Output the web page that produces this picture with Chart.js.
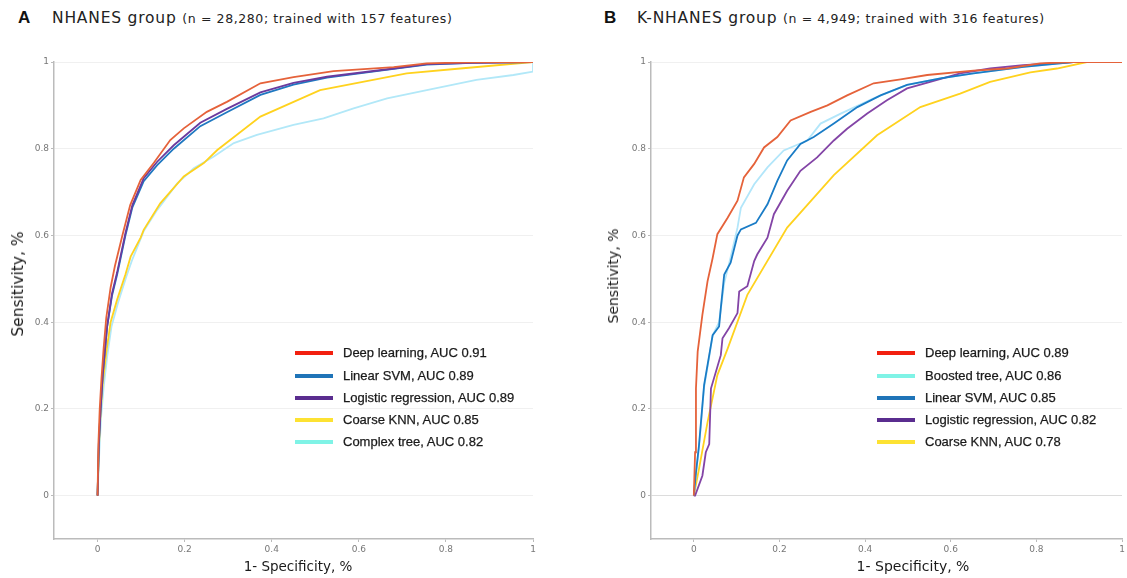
<!DOCTYPE html>
<html>
<head>
<meta charset="utf-8">
<script src="https://cdn.jsdelivr.net/npm/chart.js@4.4.1/dist/chart.umd.min.js"></script>
<style>
  body { margin: 0; background: #fff; width: 1127px; height: 578px; position: relative; overflow: hidden; }
  .panel { position: absolute; top: 0; height: 578px; }
  .lab { position: absolute; top: 8px; font: bold 17px "Liberation Sans", Arial, sans-serif; color: #111; }
  .head { position: absolute; top: 9px; font: 15.5px "DejaVu Sans", Verdana, sans-serif; letter-spacing: 0.8px; color: #222; white-space: nowrap; }
  .head small { font-size: 12.5px; letter-spacing: 0.6px; }
  .axt { position: absolute; font: 14px "DejaVu Sans", Verdana, sans-serif; color: #1a1a1a; white-space: nowrap;
         transform: translate(-50%, -50%); }
  .axt.rot { transform: translate(-50%, -50%) rotate(-90deg); }
  .legend { position: absolute; font: 13px "Liberation Sans", Arial, sans-serif; color: #1a1a1a; -webkit-text-stroke: 0.25px #1a1a1a; }
  .legend div { position: absolute; white-space: nowrap; height: 14px; line-height: 14px; }
  .legend i { position: absolute; left: 0; top: 5px; width: 38px; height: 4px; }
  .legend span { position: absolute; left: 48px; top: 0; }
</style>
</head>
<body>

<div class="lab" style="left:18px">A</div>
<div class="head" style="left:52px">NHANES group <small>(n = 28,280; trained with 157 features)</small></div>
<div class="lab" style="left:604px">B</div>
<div class="head" style="left:637px">K-NHANES group <small>(n = 4,949; trained with 316 features)</small></div>

<div class="panel" style="left:0;width:560px"><canvas id="chartA"></canvas></div>
<div class="panel" style="left:560px;width:567px"><canvas id="chartB"></canvas></div>

<div class="axt rot" style="left:18px;top:284px;font-size:15.5px">Sensitivity, %</div>
<div class="axt" style="left:298px;top:566px;font-size:13.5px">1- Specificity, %</div>
<div class="axt rot" style="left:613px;top:276px">Sensitivity, %</div>
<div class="axt" style="left:913px;top:566px">1- Specificity, %</div>

<div class="legend" id="legendA" style="left:295px;top:346px"></div>
<div class="legend" id="legendB" style="left:877px;top:346px"></div>

<script>
// ticks
var xTicks = [0, 0.2, 0.4, 0.6, 0.8, 1];
var yTicks = [0, 0.2, 0.4, 0.6, 0.8, 1];

// A - NHANES
var namesA = ['Deep learning, AUC 0.91', 'Linear SVM, AUC 0.89', 'Logistic regression, AUC 0.89', 'Coarse KNN, AUC 0.85', 'Complex tree, AUC 0.82'];

var deepAx = [0, 0.002, 0.005, 0.009, 0.014, 0.02, 0.03, 0.04, 0.057, 0.075, 0.099, 0.129, 0.167, 0.198, 0.251, 0.297, 0.374, 0.45, 0.542, 0.68, 0.756, 0.85, 1];
var deepAy = [0, 0.12, 0.2, 0.27, 0.34, 0.41, 0.48, 0.53, 0.6, 0.67, 0.728, 0.767, 0.82, 0.847, 0.885, 0.908, 0.951, 0.965, 0.979, 0.988, 0.997, 0.999, 1];

var svmAx = [0, 0.003, 0.007, 0.012, 0.022, 0.033, 0.045, 0.064, 0.08, 0.106, 0.137, 0.175, 0.236, 0.297, 0.374, 0.45, 0.527, 0.68, 0.756, 0.86, 1];
var svmAy = [0, 0.12, 0.2, 0.28, 0.39, 0.46, 0.51, 0.6, 0.665, 0.725, 0.762, 0.8, 0.852, 0.884, 0.924, 0.948, 0.964, 0.984, 0.994, 0.998, 1];

var logAx = [0, 0.003, 0.007, 0.012, 0.022, 0.033, 0.045, 0.064, 0.08, 0.106, 0.137, 0.175, 0.236, 0.297, 0.374, 0.45, 0.527, 0.68, 0.756, 0.86, 1];
var logAy = [0, 0.12, 0.2, 0.28, 0.39, 0.465, 0.515, 0.605, 0.67, 0.732, 0.77, 0.808, 0.86, 0.892, 0.93, 0.952, 0.966, 0.985, 0.995, 0.998, 1];

var knnAx = [0, 0.003, 0.007, 0.012, 0.02, 0.03, 0.045, 0.064, 0.076, 0.099, 0.106, 0.144, 0.198, 0.244, 0.275, 0.374, 0.511, 0.71, 0.833, 1];
var knnAy = [0, 0.11, 0.19, 0.26, 0.33, 0.4, 0.452, 0.51, 0.551, 0.595, 0.613, 0.674, 0.736, 0.767, 0.797, 0.874, 0.935, 0.974, 0.985, 1];

var treeAx = [0, 0.004, 0.008, 0.014, 0.022, 0.032, 0.047, 0.066, 0.08, 0.106, 0.137, 0.183, 0.221, 0.267, 0.313, 0.366, 0.45, 0.519, 0.588, 0.665, 0.756, 0.87, 0.955, 1, 1];
var treeAy = [0, 0.1, 0.18, 0.25, 0.32, 0.39, 0.445, 0.505, 0.545, 0.61, 0.659, 0.72, 0.755, 0.782, 0.813, 0.832, 0.855, 0.87, 0.893, 0.916, 0.935, 0.959, 0.97, 0.978, 1];

// B - K-NHANES
var namesB = ['Deep learning, AUC 0.89', 'Boosted tree, AUC 0.86', 'Linear SVM, AUC 0.85', 'Logistic regression, AUC 0.82', 'Coarse KNN, AUC 0.78'];

var deepBx = [0, 0.003, 0.005, 0.009, 0.02, 0.032, 0.044, 0.055, 0.079, 0.102, 0.117, 0.141, 0.164, 0.195, 0.226, 0.273, 0.312, 0.358, 0.42, 0.483, 0.545, 0.653, 0.731, 0.809, 0.886, 1];
var deepBy = [0, 0.1, 0.247, 0.332, 0.417, 0.494, 0.548, 0.603, 0.641, 0.68, 0.734, 0.765, 0.803, 0.827, 0.865, 0.885, 0.9, 0.923, 0.951, 0.96, 0.97, 0.98, 0.985, 0.997, 1, 1];

var treeBx = [0, 0.005, 0.012, 0.024, 0.036, 0.044, 0.059, 0.071, 0.086, 0.102, 0.11, 0.141, 0.172, 0.21, 0.265, 0.296, 0.343, 0.42, 0.498, 0.576, 0.653, 0.77, 0.886, 1];
var treeBy = [0, 0.05, 0.11, 0.25, 0.32, 0.37, 0.4, 0.49, 0.55, 0.618, 0.664, 0.718, 0.757, 0.796, 0.819, 0.858, 0.881, 0.916, 0.947, 0.962, 0.974, 0.989, 1, 1];

var svmBx = [0, 0.005, 0.012, 0.024, 0.036, 0.044, 0.059, 0.063, 0.071, 0.086, 0.102, 0.11, 0.145, 0.172, 0.195, 0.218, 0.249, 0.28, 0.327, 0.382, 0.436, 0.498, 0.576, 0.653, 0.77, 0.886, 1];
var svmBy = [0, 0.053, 0.115, 0.255, 0.324, 0.37, 0.39, 0.432, 0.51, 0.537, 0.6, 0.614, 0.629, 0.672, 0.726, 0.773, 0.811, 0.827, 0.858, 0.896, 0.923, 0.947, 0.962, 0.974, 0.989, 1, 1];

var logBx = [0, 0.003, 0.02, 0.028, 0.036, 0.04, 0.063, 0.067, 0.082, 0.102, 0.106, 0.125, 0.141, 0.148, 0.172, 0.187, 0.218, 0.249, 0.288, 0.327, 0.358, 0.405, 0.451, 0.498, 0.552, 0.622, 0.692, 0.769, 0.886, 1];
var logBy = [0, 0, 0.046, 0.1, 0.119, 0.247, 0.324, 0.363, 0.386, 0.421, 0.471, 0.483, 0.541, 0.556, 0.595, 0.649, 0.703, 0.749, 0.78, 0.819, 0.846, 0.881, 0.912, 0.939, 0.954, 0.974, 0.985, 0.993, 1, 1];

var knnBx = [0, 0.012, 0.032, 0.055, 0.079, 0.125, 0.218, 0.327, 0.428, 0.529, 0.622, 0.692, 0.786, 0.848, 0.918, 1];
var knnBy = [0, 0.061, 0.169, 0.278, 0.339, 0.463, 0.618, 0.739, 0.831, 0.896, 0.927, 0.954, 0.976, 0.985, 1, 1];

function pts(xs, ys) {
  return xs.map(function (x, i) { return { x: x, y: ys[i] }; });
}

function line(label, xs, ys, color, order) {
  return {
    label: label,
    data: pts(xs, ys),
    showLine: true,
    borderColor: color,
    backgroundColor: color,
    borderWidth: 1.8,
    pointRadius: 0,
    tension: 0,
    order: order
  };
}

function legend(id, names, colors) {
  var box = document.getElementById(id);
  var rows = [0, 23, 45, 67, 89];
  names.forEach(function (n, i) {
    var d = document.createElement('div');
    d.style.top = rows[i] + 'px';
    d.innerHTML = '<i style="background:' + colors[i] + '"></i><span>' + n + '</span>';
    box.appendChild(d);
  });
}

function makeChart(id, datasets, padLeft, padRight, yWidth, zeroGrid) {
  return new Chart(document.getElementById(id), {
    type: 'scatter',
    data: { datasets: datasets },
    options: {
      responsive: true,
      maintainAspectRatio: false,
      animation: false,
      layout: { padding: { left: padLeft, right: padRight, top: 62, bottom: 0 } },
      plugins: { legend: { display: false }, tooltip: { enabled: false } },
      scales: {
        x: {
          type: 'linear', min: -0.1, max: 1,
          afterBuildTicks: function (s) { s.ticks = xTicks.map(function (v) { return { value: v }; }); },
          afterFit: function (s) { s.height = 39; },
          ticks: { font: { family: 'DejaVu Sans', size: 9 }, color: '#777', padding: 2, maxRotation: 0,
            callback: function (v) { return String(v); } },
          grid: { drawOnChartArea: false, tickLength: 3, tickColor: '#bbb' },
          border: { color: '#bbb', width: 1.5 }
        },
        y: {
          type: 'linear', min: -0.1, max: 1,
          afterBuildTicks: function (s) { s.ticks = yTicks.map(function (v) { return { value: v }; }); },
          afterFit: function (s) { s.width = yWidth; },
          ticks: { font: { family: 'DejaVu Sans', size: 9 }, color: '#777', padding: 2,
            callback: function (v) { return String(v); } },
          grid: {
            tickLength: 3, tickColor: '#bbb',
            color: function (c) { return (c.tick && c.tick.value === 0) ? zeroGrid : '#f0f0f0'; }
          },
          border: { color: '#bbb', width: 1.5 }
        }
      }
    }
  });
}

makeChart('chartA', [
  line(namesA[0], deepAx, deepAy, '#e5623a', 1),
  line(namesA[1], svmAx, svmAy, '#1f78c1', 3),
  line(namesA[2], logAx, logAy, '#6a3a9e', 2),
  line(namesA[3], knnAx, knnAy, '#ffd21e', 4),
  line(namesA[4], treeAx, treeAy, '#b2e8f8', 5)
], 5, 27, 49, '#f0f0f0');

makeChart('chartB', [
  line(namesB[0], deepBx, deepBy, '#e5623a', 1),
  line(namesB[1], treeBx, treeBy, '#b2e6fa', 4),
  line(namesB[2], svmBx, svmBy, '#1a7cc6', 2),
  line(namesB[3], logBx, logBy, '#8344a6', 3),
  line(namesB[4], knnBx, knnBy, '#ffd21e', 5)
], 40, 5, 51, '#dcdcdc');

legend('legendA', namesA, ['#f2200f', '#1f74b8', '#5a2d8f', '#fde232', '#7ff3e6']);
legend('legendB', namesB, ['#f2200f', '#7ff3e6', '#1f74b8', '#5a2d8f', '#fde232']);
</script>
</body>
</html>
